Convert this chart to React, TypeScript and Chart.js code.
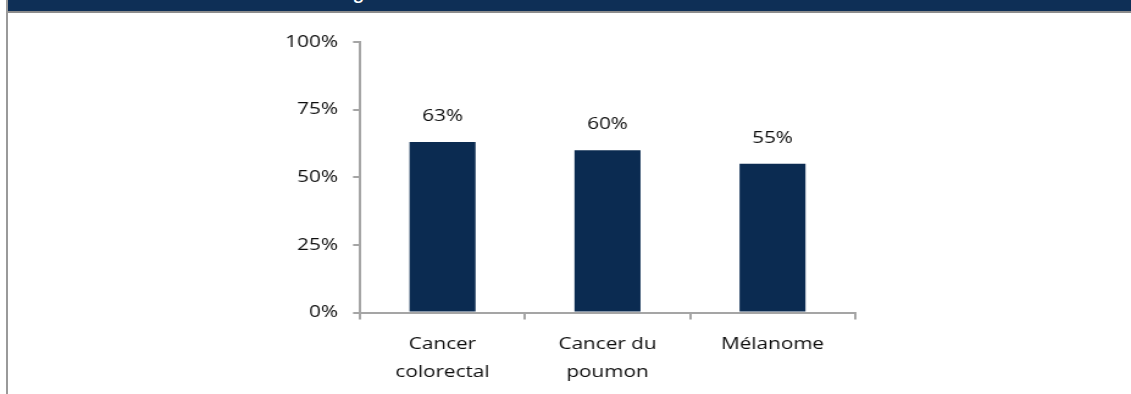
import React, { useEffect, useRef } from 'react';
import { Chart, registerables } from 'chart.js';

Chart.register(...registerables);

const categories: string[][] = [['Cancer', 'colorectal'], ['Cancer du', 'poumon'], ['Mélanome']];
const values: number[] = [63, 60, 55];
const yTicks: number[] = [0, 25, 50, 75, 100];

const W = 1131;
const H = 394;
const SX = 1.22; // horizontal stretch of the original image
const CW = Math.round(W / SX);

const FONT = '"Open Sans", "DejaVu Sans", sans-serif';
const TEXT = '#0d0d0d';
const AXIS = '#a5a5a5';
const BAR = '#0b2b51';

export default function App() {
  const ref = useRef<HTMLCanvasElement>(null);

  useEffect(() => {
    const canvas = ref.current;
    if (!canvas) return;

    const valueLabels = {
      id: 'valueLabels',
      afterDatasetsDraw(chart: any) {
        const ctx = chart.ctx;
        const meta = chart.getDatasetMeta(0);
        ctx.save();
        ctx.font = `17px ${FONT}`;
        ctx.fillStyle = TEXT;
        ctx.textAlign = 'center';
        ctx.textBaseline = 'middle';
        meta.data.forEach((bar: any, i: number) => {
          ctx.fillText(`${values[i]}%`, bar.x, bar.y - 26);
        });
        ctx.restore();
      },
    };

    const chart = new Chart(canvas, {
      type: 'bar',
      data: {
        labels: categories,
        datasets: [
          {
            data: values,
            backgroundColor: BAR,
            barPercentage: 0.4,
            categoryPercentage: 1,
          },
        ],
      },
      options: {
        animation: false,
        responsive: false,
        devicePixelRatio: 1,
        layout: { padding: { left: 0, top: 42, right: (W - 855) / SX, bottom: 0 } },
        plugins: {
          legend: { display: false },
          tooltip: { enabled: false },
        },
        scales: {
          x: {
            offset: true,
            grid: {
              offset: true,
              drawOnChartArea: false,
              drawTicks: true,
              tickLength: 7,
              color: AXIS,
              lineWidth: 2,
            },
            border: { display: true, color: AXIS, width: 2 },
            ticks: {
              font: { family: FONT, size: 17, lineHeight: 1.68 },
              color: TEXT,
              padding: 10,
              maxRotation: 0,
              autoSkip: false,
            },
            afterFit: (s: any) => {
              s.height = H - 312.5;
            },
          },
          y: {
            min: 0,
            max: 100,
            afterBuildTicks: (s: any) => {
              s.ticks = yTicks.map((v) => ({ value: v }));
            },
            grid: {
              drawOnChartArea: false,
              drawTicks: true,
              tickLength: 7 / SX,
              color: AXIS,
              lineWidth: 2,
            },
            border: { display: true, color: AXIS, width: 2 },
            ticks: {
              font: { family: FONT, size: 17 },
              color: TEXT,
              padding: 12.4,
              callback: (v: any) => `${v}%`,
            },
            afterFit: (s: any) => {
              s.width = 360 / SX;
            },
          },
        },
      },
      plugins: [valueLabels],
    });

    return () => chart.destroy();
  }, []);

  return (
    <div style={{ position: 'absolute', left: 0, top: 0, width: W, height: H, overflow: 'hidden', background: '#fff' }}>
      <canvas
        ref={ref}
        width={CW}
        height={H}
        style={{ position: 'absolute', left: 0, top: 0, width: `${W}px`, height: `${H}px` }}
      />
      <div style={{ position: 'absolute', left: 8, top: 0, width: W - 8, height: 11, background: '#0e2f56', overflow: 'hidden' }}>
        <span
          style={{
            position: 'absolute',
            left: 346,
            top: -15,
            color: '#fff',
            font: `bold 16px/16px ${FONT}`,
            whiteSpace: 'nowrap',
          }}
        >
          g
        </span>
      </div>
      <div style={{ position: 'absolute', left: 8, top: 11, width: W - 8, height: 2, background: '#8c8c8c' }} />
      <div style={{ position: 'absolute', left: 6, top: 0, width: 2, height: H, background: '#9a9a9a' }} />
    </div>
  );
}
